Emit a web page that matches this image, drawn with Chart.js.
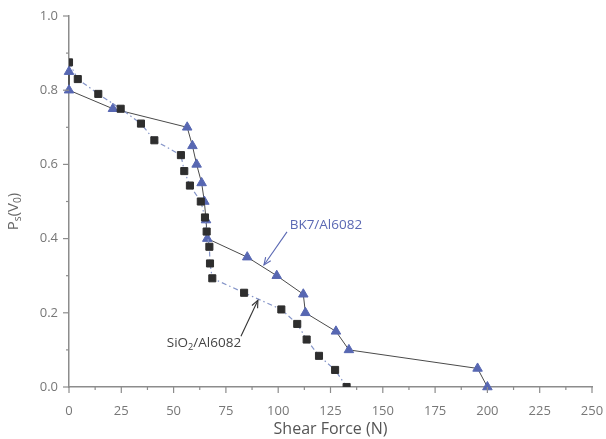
<!DOCTYPE html>
<html>
<head>
<meta charset="utf-8">
<script src="https://cdn.jsdelivr.net/npm/chart.js@4.4.1/dist/chart.umd.min.js"></script>
<style>
  html, body { margin: 0; padding: 0; background: #fff; }
  canvas { display: block; }
</style>
</head>
<body>
<canvas id="myChart" width="606" height="439"></canvas>
<script>
// values
const bk7Force = [0, 0, 21, 56.5, 59, 61, 63.4, 64.7, 65.5, 66.1, 85.2, 99.3, 112, 113, 127.6, 133.8, 195.3, 200];
const bk7P = [0.85, 0.80, 0.75, 0.70, 0.65, 0.60, 0.55, 0.50, 0.45, 0.40, 0.35, 0.30, 0.25, 0.20, 0.15, 0.10, 0.05, 0.0];

const sio2Force = [0, 4.2, 14, 24.7, 34.4, 40.8, 53.5, 55.1, 57.8, 63, 65, 65.8, 67.1, 67.4, 68.5, 83.7, 101.5, 109.1, 113.6, 119.5, 127.2, 132.7];
const sio2P = [0.875, 0.83, 0.79, 0.75, 0.71, 0.665, 0.625, 0.582, 0.543, 0.50, 0.457, 0.419, 0.378, 0.333, 0.293, 0.254, 0.209, 0.17, 0.128, 0.084, 0.046, 0.0];

const xMin = 0, xMax = 250, xStep = 25;
const yMin = 0, yMax = 1.0, yStep = 0.2;

const FONT = "'Open Sans', 'Liberation Sans', sans-serif";

function toPoints(xs, ys) {
  let pts = [];
  for (let i = 0; i < xs.length; i++) pts.push({ x: xs[i], y: ys[i] });
  return pts;
}

// text with a subscript part, pieces = [[text, isSub], ...]
function drawSubText(ctx, pieces, x, y, size, align) {
  let widths = pieces.map(p => {
    ctx.font = (p[1] ? size * 0.68 : size) + "px " + FONT;
    return ctx.measureText(p[0]).width;
  });
  let total = widths.reduce((a, b) => a + b, 0);
  let cx = align == "center" ? x - total / 2 : x;
  ctx.textBaseline = "middle";
  ctx.textAlign = "left";
  for (let i = 0; i < pieces.length; i++) {
    ctx.font = (pieces[i][1] ? size * 0.68 : size) + "px " + FONT;
    ctx.fillText(pieces[i][0], cx, pieces[i][1] ? y + size * 0.3 : y);
    cx += widths[i];
  }
}

function arrow(ctx, x1, y1, x2, y2, color) {
  ctx.strokeStyle = color;
  ctx.fillStyle = color;
  ctx.lineWidth = 1.1;
  ctx.beginPath();
  ctx.moveTo(x1, y1);
  ctx.lineTo(x2, y2);
  ctx.stroke();
  let a = Math.atan2(y2 - y1, x2 - x1);
  let l = 8, w = 0.4;
  ctx.beginPath();
  ctx.moveTo(x2 - l * Math.cos(a - w), y2 - l * Math.sin(a - w));
  ctx.lineTo(x2, y2);
  ctx.lineTo(x2 - l * Math.cos(a + w), y2 - l * Math.sin(a + w));
  ctx.stroke();
}

const extras = {
  id: "extras",
  afterDraw(chart) {
    const ctx = chart.ctx;
    const xs = chart.scales.x, ys = chart.scales.y;
    const area = chart.chartArea;
    ctx.save();
    // tick marks, major and minor
    ctx.strokeStyle = "#8c8c8c";
    ctx.lineWidth = 1.2;
    for (let v = xMin; v <= xMax + 0.001; v += xStep / 2) {
      let px = xs.getPixelForValue(v);
      let len = Math.abs(v % xStep) < 0.001 ? 6 : 3;
      ctx.beginPath();
      ctx.moveTo(px, area.bottom);
      ctx.lineTo(px, area.bottom + len);
      ctx.stroke();
    }
    for (let v = yMin; v <= yMax + 0.001; v += yStep / 2) {
      let py = ys.getPixelForValue(v);
      let major = Math.abs(v / yStep - Math.round(v / yStep)) < 0.01;
      ctx.beginPath();
      ctx.moveTo(area.left, py);
      ctx.lineTo(area.left - (major ? 6 : 3), py);
      ctx.stroke();
    }

    // y axis title P_s (V_0)
    ctx.save();
    ctx.translate(14, (area.top + area.bottom) / 2 + 10);
    ctx.rotate(-Math.PI / 2);
    ctx.fillStyle = "#666";
    drawSubText(ctx, [["P", false], ["s", true], ["(V", false], ["0", true], [")", false]], 0, 0, 15, "center");
    ctx.restore();

    // labels with arrows
    ctx.fillStyle = "#5a68b3";
    drawSubText(ctx, [["BK7/Al6082", false]], xs.getPixelForValue(122.8), ys.getPixelForValue(0.437), 13.5, "center");
    arrow(ctx, xs.getPixelForValue(104.2), ys.getPixelForValue(0.418), xs.getPixelForValue(93.2), ys.getPixelForValue(0.329), "#5a68b3");

    ctx.fillStyle = "#444";
    drawSubText(ctx, [["SiO", false], ["2", true], ["/Al6082", false]], xs.getPixelForValue(64.5), ys.getPixelForValue(0.119), 13.5, "center");
    arrow(ctx, xs.getPixelForValue(82.2), ys.getPixelForValue(0.137), xs.getPixelForValue(90.3), ys.getPixelForValue(0.234), "#333");
    ctx.restore();
  }
};

new Chart("myChart", {
  type: "line",
  data: {
    datasets: [
      {
        label: "SiO2/Al6082",
        data: toPoints(sio2Force, sio2P),
        borderColor: "#8494c8",
        borderWidth: 1.2,
        borderDash: [5, 3, 1.5, 3],
        pointStyle: "rect",
        pointRadius: 5,
        pointBackgroundColor: "#2e2e2e",
        pointBorderColor: "#2e2e2e",
        pointBorderWidth: 1,
        tension: 0
      },
      {
        label: "BK7/Al6082",
        data: toPoints(bk7Force, bk7P),
        borderColor: "#4a4a4a",
        borderWidth: 1,
        pointStyle: "triangle",
        pointRadius: 5.5,
        pointBackgroundColor: "#5767b2",
        pointBorderColor: "#5767b2",
        pointBorderWidth: 1,
        tension: 0,
        clip: false
      }
    ]
  },
  options: {
    responsive: false,
    animation: false,
    layout: { autoPadding: false, padding: { top: 16, right: 14, left: 0, bottom: 0 } },
    plugins: {
      legend: { display: false },
      tooltip: { enabled: false }
    },
    scales: {
      x: {
        type: "linear",
        min: xMin,
        max: xMax,
        grid: { display: false, drawTicks: false },
        border: { display: true, color: "#8c8c8c", width: 1.5 },
        ticks: { stepSize: xStep, color: "#777", padding: 16, font: { family: FONT, size: 13 } },
        title: { display: true, text: "Shear Force (N)", color: "#555", font: { family: FONT, size: 16 }, padding: { top: 0, bottom: 0 } },
        afterFit(s) { s.height = 52; s.paddingLeft = 0; s.paddingRight = 0; }
      },
      y: {
        type: "linear",
        min: yMin,
        max: yMax,
        grid: { display: false, drawTicks: false },
        border: { display: true, color: "#8c8c8c", width: 1.5 },
        ticks: { stepSize: yStep, color: "#777", padding: 11, font: { family: FONT, size: 13 }, callback: v => v.toFixed(1) },
        afterFit(s) { s.width = 69; s.paddingTop = 0; s.paddingBottom = 0; }
      }
    }
  },
  plugins: [extras]
});
</script>
</body>
</html>
